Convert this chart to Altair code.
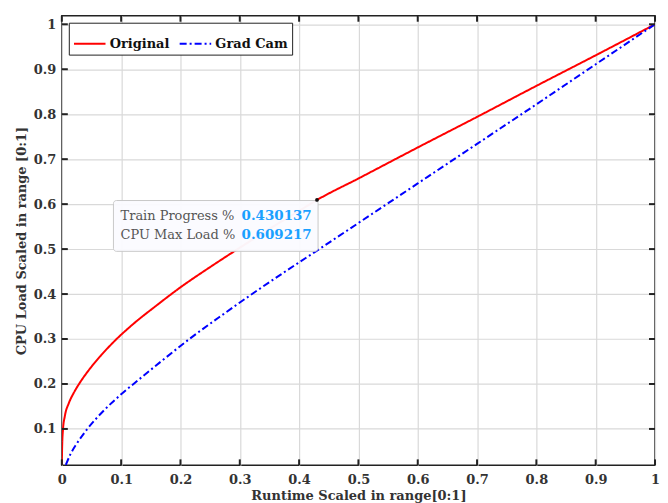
import altair as alt
import pandas as pd

# ---- data ----
orig_x = [0.0, 0.0005, 0.002, 0.005, 0.012, 0.02, 0.029, 0.045, 0.065, 0.09, 0.12, 0.16, 0.2, 0.25, 0.3,
          0.35, 0.4, 0.430137, 0.5, 0.6, 0.7, 0.8, 0.9, 1.0]
orig_y = [0.02, 0.06, 0.10, 0.128, 0.158, 0.18, 0.20, 0.23, 0.262, 0.297, 0.333, 0.375, 0.415, 0.46, 0.503,
          0.545, 0.585, 0.609217, 0.657, 0.726, 0.794, 0.863, 0.931, 1.0]
grad_x = [0.0067, 0.015, 0.025, 0.043, 0.07, 0.1, 0.13, 0.17, 0.215, 0.27, 0.325, 0.38, 0.434, 0.5, 0.6,
          0.7, 0.8, 0.9, 1.0]
grad_y = [0.02, 0.045, 0.067, 0.10, 0.14, 0.177, 0.21, 0.253, 0.30, 0.353, 0.404, 0.453, 0.50, 0.558, 0.646,
          0.734, 0.822, 0.911, 1.0]

series_names = ["Original", "Grad Cam"]
series_colors = ["#ff0000", "#0000ff"]

x_ticks = [0.0, 0.1, 0.2, 0.3, 0.4, 0.5, 0.6, 0.7, 0.8, 0.9, 1.0]
y_ticks = [0.1, 0.2, 0.3, 0.4, 0.5, 0.6, 0.7, 0.8, 0.9, 1.0]

point_x = 0.430137
point_y = 0.609217
tip_box = {"x": 0.087, "x2": 0.432, "y": 0.495, "y2": 0.608}
tip_label_x = 0.099
tip_value_x = 0.303
tip_rows_y = [0.573, 0.532]
tip_labels = ["Train Progress %", "CPU Max Load %"]

W, H = 595, 451
X_DOM = [0, 1]
Y_DOM = [0.019, 1.019]

rows = [{"x": a, "y": b, "series": "Original", "order": i} for i, (a, b) in enumerate(zip(orig_x, orig_y))]
rows += [{"x": a, "y": b, "series": "Grad Cam", "order": i} for i, (a, b) in enumerate(zip(grad_x, grad_y))]
df = pd.DataFrame(rows)

xs = alt.Scale(domain=X_DOM, nice=False, zero=False)
ys = alt.Scale(domain=Y_DOM, nice=False, zero=False)

FONT = "DejaVu Serif"
LBL = "#333333"

lines = alt.Chart(df).mark_line(strokeWidth=2, clip=True, interpolate="monotone").encode(
    x=alt.X("x:Q", scale=xs, title="Runtime Scaled in range[0:1]",
            axis=alt.Axis(values=x_ticks, format=".1~f", ticks=False, grid=True, domain=False,
                          labelFlush=False, labelPadding=8, titlePadding=3)),
    y=alt.Y("y:Q", scale=ys, title="CPU Load Scaled in range [0:1]",
            axis=alt.Axis(values=y_ticks, format=".1~f", ticks=False, grid=True, domain=False,
                          labelFlush=False, labelPadding=6, titlePadding=5)),
    color=alt.Color("series:N", scale=alt.Scale(domain=series_names, range=series_colors),
                    legend=alt.Legend(title=None, orient="top-left", direction="horizontal", offset=7,
                                      symbolType="stroke", symbolSize=1000, symbolStrokeWidth=2,
                                      labelFont=FONT, labelFontWeight="bold", labelFontSize=13,
                                      labelColor="#111111", strokeColor="#222222", fillColor="white",
                                      padding=4, columnPadding=6, symbolOffset=0, labelOffset=3)),
    strokeDash=alt.StrokeDash("series:N", scale=alt.Scale(domain=series_names, range=[[1, 0], [7, 3, 2, 3]]),
                              legend=None),
    order="order:Q",
)

tick_df_x = pd.DataFrame({"v": x_ticks})
tick_df_y = pd.DataFrame({"v": y_ticks})
tick_style = dict(color="#222222", strokeWidth=2)
tb = alt.Chart(tick_df_x).mark_rule(**tick_style).encode(x=alt.X("v:Q", scale=xs), y=alt.value(H), y2=alt.value(H - 6))
tt = alt.Chart(tick_df_x).mark_rule(**tick_style).encode(x=alt.X("v:Q", scale=xs), y=alt.value(0), y2=alt.value(6))
tl = alt.Chart(tick_df_y).mark_rule(**tick_style).encode(y=alt.Y("v:Q", scale=ys), x=alt.value(0), x2=alt.value(6))
tr = alt.Chart(tick_df_y).mark_rule(**tick_style).encode(y=alt.Y("v:Q", scale=ys), x=alt.value(W), x2=alt.value(W - 6))

box = alt.Chart(pd.DataFrame([tip_box])).mark_rect(
    fill="#fbfbff", stroke="#c8c8c8", strokeWidth=1, cornerRadius=3, opacity=0.97
).encode(x=alt.X("x:Q", scale=xs), x2="x2:Q", y=alt.Y("y:Q", scale=ys), y2="y2:Q")

tip_df = pd.DataFrame({
    "lx": [tip_label_x, tip_label_x],
    "vx": [tip_value_x, tip_value_x],
    "y": tip_rows_y,
    "label": tip_labels,
    "value": [f"{point_x:.6f}", f"{point_y:.6f}"],
})
tip_lbl = alt.Chart(tip_df).mark_text(align="left", baseline="middle", font=FONT, fontSize=13,
                                      color="#555555").encode(
    x=alt.X("lx:Q", scale=xs), y=alt.Y("y:Q", scale=ys), text="label:N")
tip_val = alt.Chart(tip_df).mark_text(align="left", baseline="middle", font=FONT, fontSize=13.5,
                                      fontWeight="bold", color="#1aa0ff").encode(
    x=alt.X("vx:Q", scale=xs), y=alt.Y("y:Q", scale=ys), text="value:N")

pt = alt.Chart(pd.DataFrame({"x": [point_x], "y": [point_y]})).mark_point(
    filled=True, color="#111111", size=14, opacity=1
).encode(x=alt.X("x:Q", scale=xs), y=alt.Y("y:Q", scale=ys))

chart = alt.layer(lines, tb, tt, tl, tr, box, tip_lbl, tip_val, pt).properties(
    width=W, height=H, padding={"left": 7, "top": 6, "right": 0, "bottom": 0}
).configure_view(stroke="#222222", strokeWidth=1.5).configure_axis(
    labelFont=FONT, labelFontWeight="bold", labelFontSize=13, labelColor=LBL,
    titleFont=FONT, titleFontWeight="bold", titleFontSize=13, titleColor=LBL,
    gridColor="#d9d9d9", gridWidth=1.2,
)

chart.save("out.html", embed_options={"renderer": "svg", "actions": False})
